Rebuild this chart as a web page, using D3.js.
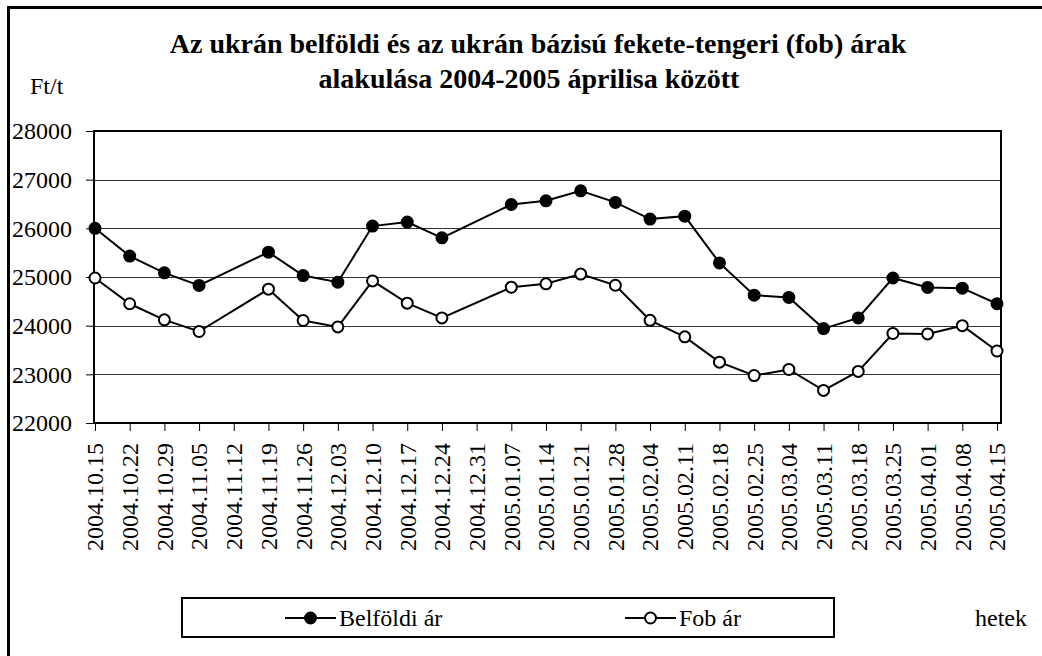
<!DOCTYPE html>
<html>
<head>
<meta charset="utf-8">
<script src="https://cdn.jsdelivr.net/npm/d3@7/dist/d3.min.js"></script>
<style>
body { margin: 0; background: #fff; }
svg text { font-family: "Liberation Serif", "Times New Roman", serif !important; fill: #000; }
.axis text { font-size: 24px; }
.axis path, .axis line { stroke: #000; }
.grid line { stroke: #333; stroke-width: 1px; }
.line { fill: none; stroke: #000; stroke-width: 2px; }
</style>
</head>
<body>
<div id="chart"></div>
<script>
// weekly quotes, Ft/t
var weeks = ["2004.10.15", "2004.10.22", "2004.10.29", "2004.11.05", "2004.11.12", "2004.11.19",
  "2004.11.26", "2004.12.03", "2004.12.10", "2004.12.17", "2004.12.24", "2004.12.31",
  "2005.01.07", "2005.01.14", "2005.01.21", "2005.01.28", "2005.02.04", "2005.02.11",
  "2005.02.18", "2005.02.25", "2005.03.04", "2005.03.11", "2005.03.18", "2005.03.25",
  "2005.04.01", "2005.04.08", "2005.04.15"];

var belfoldi = [26000, 25430, 25085, 24826, null, 25510, 25030, 24894, 26046, 26128, 25805, null,
  26490, 26566, 26770, 26533, 26190, 26250, 25290, 24626, 24580, 23940, 24160, 24980, 24785, 24770, 24450];

var fob = [24980, 24450, 24120, 23880, null, 24750, 24106, 23975, 24920, 24462, 24160, null,
  24790, 24860, 25060, 24830, 24110, 23770, 23250, 22975, 23100, 22670, 23060, 23840, 23830, 24000, 23480];

var yTicks = [22000, 23000, 24000, 25000, 26000, 27000, 28000];

var width = 1042, height = 656;
var plot = {left: 94, top: 131, right: 1001, bottom: 423};
var serif = "'Liberation Serif', 'Times New Roman', serif";

var svg = d3.select("#chart").append("svg")
    .attr("width", width)
    .attr("height", height)
    .attr("font-family", serif);

// outer frame
svg.append("rect")
    .attr("x", 8.5).attr("y", 7.5)
    .attr("width", width + 10).attr("height", height + 10)
    .attr("fill", "none").attr("stroke", "#000").attr("stroke-width", 3);

var x = d3.scalePoint().domain(weeks).range([95, 997]);
var y = d3.scaleLinear().domain([22000, 28000]).range([plot.bottom, plot.top]);

// gridlines
svg.append("g")
    .attr("class", "grid")
  .selectAll("line")
  .data(yTicks.slice(1, -1))
  .enter().append("line")
    .attr("x1", plot.left).attr("x2", plot.right)
    .attr("y1", function(d) { return Math.round(y(d)) + 0.5; })
    .attr("y2", function(d) { return Math.round(y(d)) + 0.5; });

// plot frame
svg.append("rect")
    .attr("x", plot.left).attr("y", plot.top)
    .attr("width", plot.right - plot.left).attr("height", plot.bottom - plot.top)
    .attr("fill", "none").attr("stroke", "#000").attr("stroke-width", 2);

var yAxis = svg.append("g")
    .attr("class", "axis axis--y")
    .attr("transform", "translate(" + plot.left + ",0)")
    .call(d3.axisLeft(y).tickValues(yTicks).tickSize(8).tickPadding(14).tickFormat(d3.format("d")))
    .attr("font-family", serif).attr("font-size", 24);
yAxis.select(".domain").remove();

var xAxis = svg.append("g")
    .attr("class", "axis axis--x")
    .attr("transform", "translate(0," + plot.bottom + ")")
    .call(d3.axisBottom(x).tickSize(8))
    .attr("font-family", serif).attr("font-size", 24);
xAxis.select(".domain").remove();
xAxis.selectAll("text")
    .attr("transform", "rotate(-90)")
    .attr("x", -20)
    .attr("y", 0)
    .attr("dy", "0.33em")
    .style("text-anchor", "end");

var line = d3.line()
    .x(function(d) { return x(d.week); })
    .y(function(d) { return y(d.value); });

function series(values) {
  return weeks.map(function(w, i) { return {week: w, value: values[i]}; })
    .filter(function(d) { return d.value != null; });
}

function drawSeries(values, fill) {
  var data = series(values);
  svg.append("path")
      .datum(data)
      .attr("class", "line")
      .attr("d", line);
  svg.append("g").selectAll("circle")
    .data(data)
    .enter().append("circle")
      .attr("cx", function(d) { return x(d.week); })
      .attr("cy", function(d) { return y(d.value); })
      .attr("r", 5.5)
      .attr("fill", fill)
      .attr("stroke", "#000")
      .attr("stroke-width", 2);
}

drawSeries(fob, "#fff");
drawSeries(belfoldi, "#000");

// title
var title = svg.append("text")
    .attr("text-anchor", "middle")
    .style("font-size", "28px")
    .style("font-weight", "bold");
title.append("tspan").attr("x", 538).attr("y", 53)
    .text("Az ukrán belföldi és az ukrán bázisú fekete-tengeri (fob) árak");
title.append("tspan").attr("x", 529).attr("y", 88)
    .text("alakulása 2004-2005 áprilisa között");

svg.append("text")
    .attr("x", 30).attr("y", 94)
    .style("font-size", "24px")
    .text("Ft/t");

svg.append("text")
    .attr("x", 975).attr("y", 626)
    .style("font-size", "24px")
    .text("hetek");

// legend
var legend = svg.append("g");
legend.append("rect")
    .attr("x", 182).attr("y", 598)
    .attr("width", 652).attr("height", 39)
    .attr("fill", "#fff").attr("stroke", "#000").attr("stroke-width", 2);

var legendItems = [
  {label: "Belföldi ár", fill: "#000", x: 285},
  {label: "Fob ár", fill: "#fff", x: 625}
];
var item = legend.selectAll(".item")
  .data(legendItems)
  .enter().append("g")
    .attr("class", "item")
    .attr("transform", function(d) { return "translate(" + d.x + ",618)"; });
item.append("line")
    .attr("x1", 0).attr("x2", 51)
    .attr("stroke", "#000").attr("stroke-width", 2);
item.append("circle")
    .attr("cx", 25.5).attr("r", 5.5)
    .attr("fill", function(d) { return d.fill; })
    .attr("stroke", "#000").attr("stroke-width", 2);
item.append("text")
    .attr("x", 54).attr("y", 8)
    .style("font-size", "24px")
    .text(function(d) { return d.label; });
</script>
</body>
</html>
